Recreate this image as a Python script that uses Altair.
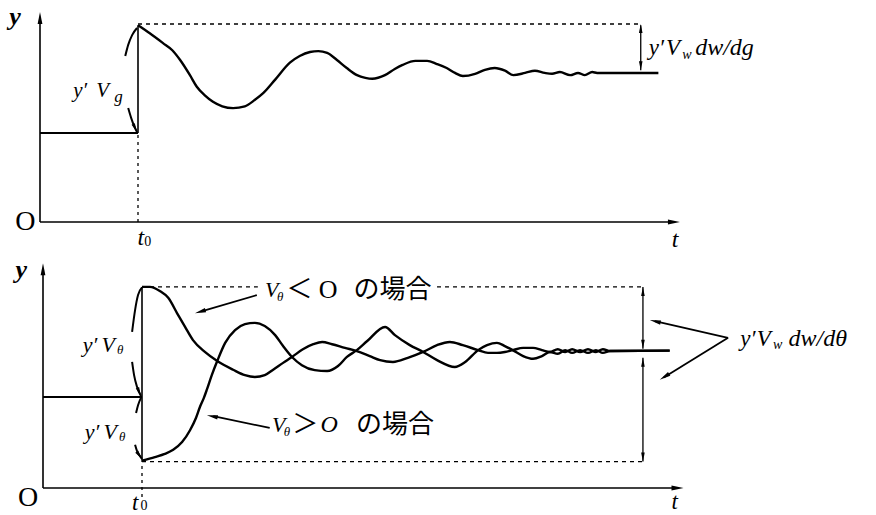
import math

import altair as alt
import pandas as pd

# ---------------------------------------------------------------------------
# Data (time in units of t0, output y relative to its level before the step)
# ---------------------------------------------------------------------------

# Upper panel: response to a step change in g
g_t = [1.0, 1.12, 1.255, 1.35, 1.43, 1.53, 1.60, 1.685, 1.765, 1.86, 1.97, 2.09,
       2.19, 2.28, 2.40, 2.55, 2.65, 2.755, 2.84, 2.93, 3.03, 3.13, 3.235, 3.32,
       3.39, 3.52, 3.62, 3.70, 3.83, 3.95, 4.05, 4.15, 4.235, 4.315, 4.44, 4.54,
       4.64, 4.745, 4.83, 4.95, 5.05, 5.15, 5.225, 5.305, 5.41, 5.49, 5.56, 5.635,
       5.685, 6.31]
g_y = [2.21, 2.12, 2.01, 1.93, 1.82, 1.65, 1.52, 1.42, 1.35, 1.30, 1.28, 1.30,
       1.37, 1.45, 1.60, 1.79, 1.865, 1.91, 1.92, 1.90, 1.82, 1.73, 1.65, 1.62,
       1.61, 1.65, 1.72, 1.765, 1.81, 1.81, 1.775, 1.73, 1.675, 1.64, 1.665, 1.71,
       1.73, 1.70, 1.65, 1.675, 1.70, 1.675, 1.665, 1.685, 1.65, 1.675, 1.65, 1.685,
       1.675, 1.675]

# Lower panel: response to a step change in theta, V_theta < 0
neg_t = [1.0, 1.08, 1.18, 1.265, 1.355, 1.435, 1.515, 1.635, 1.76, 1.92, 2.04, 2.14,
         2.24, 2.325, 2.425, 2.515, 2.625, 2.73, 2.82, 2.92, 3.05, 3.17, 3.30, 3.405,
         3.535, 3.685, 3.84, 3.98, 4.11, 4.24, 4.395, 4.495, 4.585, 4.665, 4.745, 4.85,
         4.95, 5.04, 5.12, 5.20, 5.275, 5.345, 5.425, 5.505, 5.585, 5.655, 5.73, 6.33]
neg_y = [2.21, 2.21, 2.165, 2.09, 1.92, 1.77, 1.625, 1.495, 1.395, 1.30, 1.24, 1.22,
         1.24, 1.30, 1.375, 1.44, 1.525, 1.58, 1.605, 1.58, 1.54, 1.505, 1.45, 1.405,
         1.385, 1.43, 1.495, 1.57, 1.605, 1.57, 1.515, 1.485, 1.485, 1.495, 1.515, 1.54,
         1.54, 1.515, 1.495, 1.525, 1.495, 1.525, 1.495, 1.525, 1.495, 1.525, 1.505, 1.51]

# Lower panel: response to a step change in theta, V_theta > 0
pos_t = [1.0, 1.13, 1.23, 1.315, 1.405, 1.485, 1.545, 1.585, 1.625, 1.655, 1.705, 1.76,
         1.84, 1.94, 2.04, 2.14, 2.24, 2.345, 2.425, 2.515, 2.615, 2.745, 2.87, 2.98,
         3.07, 3.17, 3.275, 3.455, 3.555, 3.705, 3.84, 3.98, 4.16, 4.265, 4.395, 4.485,
         4.585, 4.665, 4.745, 4.85, 4.95, 5.04, 5.12, 5.20, 5.275, 5.345, 5.425, 5.505,
         5.585, 5.655, 5.73, 6.33]
pos_y = [0.30, 0.34, 0.375, 0.42, 0.505, 0.635, 0.77, 0.89, 0.99, 1.08, 1.24, 1.395,
         1.595, 1.735, 1.80, 1.815, 1.78, 1.68, 1.56, 1.44, 1.35, 1.295, 1.285, 1.34,
         1.44, 1.515, 1.615, 1.77, 1.68, 1.57, 1.495, 1.405, 1.33, 1.385, 1.515, 1.57,
         1.595, 1.56, 1.515, 1.45, 1.42, 1.45, 1.495, 1.475, 1.515, 1.485, 1.515, 1.485,
         1.515, 1.485, 1.505, 1.51]

Y_BEFORE = 1.0       # output level before t0
G_PEAK = 2.21        # jump y'V_g reached at t0
G_SETTLE = 1.675     # new steady level after the g step
TH_HIGH = 2.21       # jump for V_theta < 0
TH_LOW = 0.30        # jump for V_theta > 0
TH_SETTLE = 1.51     # new steady level after the theta step

# curved arrows marking the initial jumps (t, y)
g_arc_up_t = [0.87, 0.90, 0.94, 0.99]
g_arc_up_y = [1.865, 1.99, 2.10, 2.18]
g_arc_dn_t = [0.90, 0.93, 0.96, 0.99]
g_arc_dn_y = [1.28, 1.17, 1.08, 1.01]
th_arc1_t = [0.90, 0.93, 0.96, 1.0]
th_arc1_y = [1.715, 1.955, 2.12, 2.205]
th_arc2_t = [0.90, 0.92, 0.95, 0.99]
th_arc2_y = [1.385, 1.24, 1.11, 1.01]
th_arc3_t = [0.94, 0.96, 0.99]
th_arc3_y = [0.825, 0.91, 0.99]
th_arc4_t = [0.93, 0.95, 0.98, 1.0]
th_arc4_y = [0.475, 0.405, 0.35, 0.32]

# ---------------------------------------------------------------------------
# Panel frames: pixel origin of each panel's axes and pixels per data unit
# ---------------------------------------------------------------------------
FRAMES = {
    "top": dict(x0=40, kx=98, y0=222, ky=89),
    "bottom": dict(x0=43, kx=99, y0=488, ky=91),
}
T_DOM = [-0.5, 8.6]
Y_DOM = [-0.4, 2.6]

SERIF = "Liberation Serif"
JP = "Noto Sans CJK JP"
HEAD = "M0,-1L-0.4,1L0.4,1Z"   # slim arrow head pointing up


def enc(panel):
    f = FRAMES[panel]
    xs = alt.Scale(domain=T_DOM, nice=False, zero=False,
                   range=[f["x0"] + T_DOM[0] * f["kx"], f["x0"] + T_DOM[1] * f["kx"]])
    ys = alt.Scale(domain=Y_DOM, nice=False, zero=False,
                   range=[f["y0"] - Y_DOM[0] * f["ky"], f["y0"] - Y_DOM[1] * f["ky"]])
    return dict(x=alt.X("t:Q", scale=xs, axis=None), y=alt.Y("v:Q", scale=ys, axis=None))


def line(panel, ts, vs, interp="monotone", **mark):
    df = pd.DataFrame({"t": ts, "v": vs, "i": list(range(len(ts)))})
    return alt.Chart(df).mark_line(color="black", interpolate=interp, **mark).encode(
        order="i:Q", **enc(panel))


def segs(panel, rows, **mark):
    df = pd.DataFrame(rows, columns=["t", "v", "t2", "v2"])
    return alt.Chart(df).mark_rule(color="black", **mark).encode(
        x2="t2:Q", y2="v2:Q", **enc(panel))


def head_row(panel, ta, va, tb, vb, length):
    """Arrow head whose tip sits on (tb, vb), pointing away from (ta, va)."""
    f = FRAMES[panel]
    dx = (tb - ta) * f["kx"]
    dy = -(vb - va) * f["ky"]
    n = math.hypot(dx, dy)
    ux, uy = dx / n, dy / n
    ang = math.degrees(math.atan2(ux, -uy)) % 360
    return dict(t=tb - ux * length / 2 / f["kx"], v=vb + uy * length / 2 / f["ky"], ang=ang)


def heads(panel, rows, length=10):
    df = pd.DataFrame([head_row(panel, *r, length) for r in rows])
    return alt.Chart(df).mark_point(shape=HEAD, filled=True, color="black", opacity=1,
                                    strokeWidth=0, size=length * length).encode(
        angle=alt.Angle("ang:Q", scale=None), **enc(panel))


def texts(panel, rows, **mark):
    df = pd.DataFrame(rows, columns=["t", "v", "s"])
    style = dict(color="black", baseline="middle", align="center")
    style.update(mark)
    return alt.Chart(df).mark_text(**style).encode(text="s:N", **enc(panel))


MATH = dict(font=SERIF, fontStyle="italic")

# ---------------------------------------------------------------------------
# Upper panel
# ---------------------------------------------------------------------------
top_layers = [
    # axes
    segs("top", [(0, 0, 6.45, 0), (0, 0, 0, 2.28)], strokeWidth=1.6),
    heads("top", [(0, 0, 6.53, 0), (0, 0, 0, 2.36)], length=12),
    # level before the step and the jump at t0
    segs("top", [(0, Y_BEFORE, 1.0, Y_BEFORE)], strokeWidth=2.2),
    segs("top", [(1.0, Y_BEFORE, 1.0, G_PEAK)], strokeWidth=1.6),
    segs("top", [(1.0, 0, 1.0, Y_BEFORE)], strokeWidth=1.3, strokeDash=[3, 4]),
    # peak guide and settled offset
    segs("top", [(1.0, G_PEAK + 0.015, 6.12, G_PEAK + 0.015)], strokeWidth=1.3, strokeDash=[4, 4]),
    segs("top", [(6.13, G_PEAK, 6.13, G_SETTLE + 0.03)], strokeWidth=1.3),
    heads("top", [(6.13, 1.95, 6.13, G_PEAK + 0.015), (6.13, 1.95, 6.13, G_SETTLE + 0.03)], length=9),
    # response
    line("top", g_t, g_y, strokeWidth=2.4),
    # jump marker y'V_g
    line("top", g_arc_up_t, g_arc_up_y, strokeWidth=2.0),
    line("top", g_arc_dn_t, g_arc_dn_y, strokeWidth=2.0),
    heads("top", [(g_arc_dn_t[-2], g_arc_dn_y[-2], g_arc_dn_t[-1], g_arc_dn_y[-1])], length=9),
    # labels
    texts("top", [(-0.255, 2.30, "y")], fontSize=26, fontWeight="bold", **MATH),
    texts("top", [(-0.15, 0.0, "O")], font=SERIF, fontSize=28),
    texts("top", [(1.03, -0.18, "t"), (6.48, -0.20, "t")], fontSize=24, **MATH),
    texts("top", [(1.10, -0.23, "0")], font=SERIF, fontSize=14),
    texts("top", [(0.41, 1.47, "y′"), (0.64, 1.47, "V")], fontSize=21, **MATH),
    texts("top", [(0.80, 1.40, "g")], fontSize=17, **MATH),
    texts("top", [(6.29, 1.955, "y′"), (6.46, 1.955, "V")], fontSize=23, **MATH),
    texts("top", [(6.685, 1.955, "dw/dg")], align="left", fontSize=24, **MATH),
    texts("top", [(6.60, 1.875, "w")], fontSize=14, **MATH),
]

# ---------------------------------------------------------------------------
# Lower panel
# ---------------------------------------------------------------------------
bottom_layers = [
    # axes
    segs("bottom", [(0, 0, 6.40, 0), (0, 0, 0, 2.40)], strokeWidth=1.6),
    heads("bottom", [(0, 0, 6.47, 0), (0, 0, 0, 2.47)], length=12),
    # level before the step and the jumps at t0
    segs("bottom", [(0, Y_BEFORE, 1.0, Y_BEFORE)], strokeWidth=2.2),
    segs("bottom", [(1.0, TH_LOW, 1.0, TH_HIGH)], strokeWidth=1.6),
    segs("bottom", [(1.0, -0.1, 1.0, TH_LOW)], strokeWidth=1.3, strokeDash=[3, 4]),
    # guides at the two jump levels
    segs("bottom", [(1.0, TH_HIGH, 2.17, TH_HIGH), (3.98, TH_HIGH, 6.06, TH_HIGH),
                    (1.0, TH_LOW - 0.01, 6.06, TH_LOW - 0.01)],
         strokeWidth=1.3, strokeDash=[4, 4]),
    segs("bottom", [(6.06, TH_HIGH, 6.06, 1.53), (6.06, 1.43, 6.06, TH_LOW - 0.01)], strokeWidth=1.3),
    heads("bottom", [(6.06, 1.8, 6.06, TH_HIGH), (6.06, 1.8, 6.06, 1.53),
                     (6.06, 0.9, 6.06, 1.43), (6.06, 0.9, 6.06, TH_LOW - 0.01)], length=9),
    # responses
    line("bottom", neg_t, neg_y, strokeWidth=2.4),
    line("bottom", pos_t, pos_y, strokeWidth=2.4),
    # jump markers y'V_theta
    line("bottom", th_arc1_t, th_arc1_y, strokeWidth=2.0),
    line("bottom", th_arc2_t, th_arc2_y, strokeWidth=2.0),
    line("bottom", th_arc3_t, th_arc3_y, strokeWidth=2.0),
    line("bottom", th_arc4_t, th_arc4_y, strokeWidth=2.0),
    heads("bottom", [(th_arc2_t[-2], th_arc2_y[-2], th_arc2_t[-1], th_arc2_y[-1]),
                     (th_arc4_t[-2], th_arc4_y[-2], th_arc4_t[-1], th_arc4_y[-1])], length=9),
    # pointers to the curves and to the settled offsets
    segs("bottom", [(2.16, 2.12, 1.60, 1.94), (2.29, 0.66, 1.72, 0.79),
                    (6.92, 1.65, 6.18, 1.835), (6.92, 1.65, 6.27, 1.215)], strokeWidth=1.8),
    heads("bottom", [(2.16, 2.12, 1.535, 1.92), (2.29, 0.66, 1.655, 0.80),
                     (6.92, 1.65, 6.13, 1.845), (6.92, 1.65, 6.23, 1.19)], length=11),
    # labels
    texts("bottom", [(-0.22, 2.40, "y")], fontSize=26, fontWeight="bold", **MATH),
    texts("bottom", [(-0.15, -0.11, "O")], font=SERIF, fontSize=28),
    texts("bottom", [(0.93, -0.165, "t"), (6.38, -0.155, "t")], fontSize=23, **MATH),
    texts("bottom", [(1.02, -0.20, "0")], font=SERIF, fontSize=14),
    texts("bottom", [(0.475, 1.57, "y′"), (0.66, 1.57, "V"), (0.495, 0.615, "y′"), (0.68, 0.615, "V"),
                     (2.31, 2.176, "V"), (2.38, 0.69, "V")],
          fontSize=22, **MATH),
    texts("bottom", [(2.89, 0.69, "O")], fontSize=24, **MATH),
    texts("bottom", [(7.12, 1.64, "y′"), (7.28, 1.64, "V")], fontSize=23, **MATH),
    texts("bottom", [(7.53, 1.64, "dw/dθ")], align="left", fontSize=24, **MATH),
    texts("bottom", [(0.78, 1.515, "θ"), (0.80, 0.56, "θ"), (2.395, 2.10, "θ"), (2.465, 0.615, "θ")],
          fontSize=13, **MATH),
    texts("bottom", [(7.42, 1.57, "w")], fontSize=14, **MATH),
    texts("bottom", [(2.88, 2.176, "O")], font=SERIF, fontSize=26),
    texts("bottom", [(2.59, 2.176, "＜"), (2.65, 0.69, "＞")], font=JP, fontSize=26),
    texts("bottom", [(3.53, 2.176, "の場合"), (3.556, 0.69, "の場合")], font=JP, fontSize=26),
]

top = alt.layer(*top_layers)
bottom = alt.layer(*bottom_layers)

chart = (
    alt.layer(top, bottom)
    .resolve_scale(x="independent", y="independent")
    .properties(width=876, height=515, padding=0, autosize="none", background="white")
    .configure_view(stroke=None)
)

chart.save("out.html", embed_options={"renderer": "svg", "actions": False})
